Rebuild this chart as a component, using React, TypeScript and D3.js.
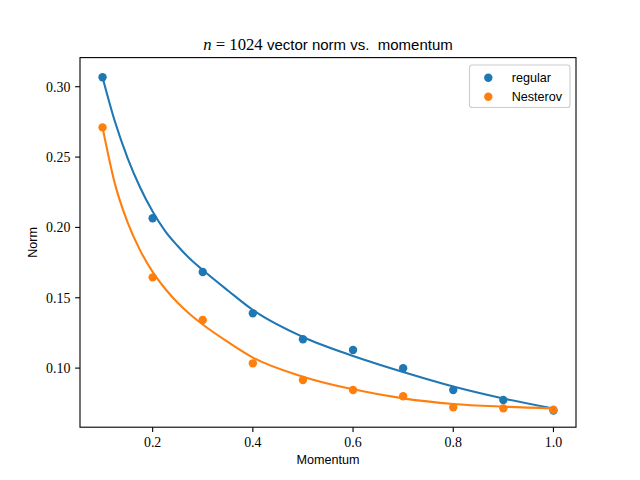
import { useEffect, useRef } from "react";
import * as d3 from "d3";

// measured points
const momentum = [0.1, 0.2, 0.3, 0.4, 0.5, 0.6, 0.7, 0.8, 0.9, 1.0];
const regularNorm = [0.3067, 0.2065, 0.1683, 0.139, 0.1205, 0.1129, 0.0999, 0.0844, 0.0773, 0.0698];
const nesterovNorm = [0.2711, 0.1645, 0.1342, 0.1034, 0.0915, 0.0844, 0.08, 0.0721, 0.0714, 0.0704];

// fitted curves
const fitMomentum = [0.1, 0.125, 0.15, 0.175, 0.2, 0.225, 0.25, 0.275, 0.3, 0.35, 0.4, 0.5, 0.6, 0.7, 0.8, 0.9, 1.0];
const regularFit = [0.3067, 0.2749, 0.2493, 0.2284, 0.2113, 0.1974, 0.1868, 0.1775, 0.1697, 0.1552, 0.1413, 0.1221, 0.1086, 0.0972, 0.0869, 0.0784, 0.0713];
const nesterovFit = [0.2711, 0.2306, 0.2036, 0.1837, 0.1684, 0.1564, 0.1464, 0.1381, 0.131, 0.1186, 0.1075, 0.0939, 0.0849, 0.0785, 0.0745, 0.0726, 0.0714];

const xTicks = [0.2, 0.4, 0.6, 0.8, 1.0];
const yTicks = [0.1, 0.15, 0.2, 0.25, 0.3];

const seriesNames = ["regular", "Nesterov"];
const colors = ["#1f77b4", "#ff7f0e"];

const SERIF = "'Liberation Serif', 'DejaVu Serif', serif";
const SANS = "'Liberation Sans', Arial, sans-serif";

const width = 640;
const height = 480;

export const NormChart = () => {
    const svgRef = useRef<SVGSVGElement | null>(null);

    useEffect(() => {
        const svg = d3.select(svgRef.current);
        svg.selectAll("*").remove();

        const margin = { top: 57.6, right: 64, bottom: 52.8, left: 80 };
        const x0 = margin.left;
        const x1 = width - margin.right;
        const y0 = height - margin.bottom;
        const y1 = margin.top;

        const x = d3.scaleLinear().domain([0.055, 1.045]).range([x0, x1]);
        const y = d3.scaleLinear().domain([0.058, 0.3207]).range([y0, y1]);

        svg.append("rect").attr("width", width).attr("height", height).attr("fill", "white");

        // scatter points (under the lines)
        const pointSets = [regularNorm, nesterovNorm];
        pointSets.forEach((vals, i) => {
            svg.append("g")
                .selectAll("circle")
                .data(momentum)
                .enter()
                .append("circle")
                .attr("cx", d => x(d))
                .attr("cy", (_d, j) => y(vals[j]))
                .attr("r", 4.2)
                .attr("fill", colors[i]);
        });

        const line = d3.line<number>()
            .x(d => x(d))
            .curve(d3.curveMonotoneX);

        [regularFit, nesterovFit].forEach((vals, i) => {
            svg.append("path")
                .attr("d", line.y((_d, j) => y(vals[j]))(fitMomentum))
                .attr("fill", "none")
                .attr("stroke", colors[i])
                .attr("stroke-width", 2.08)
                .attr("stroke-linecap", "square");
        });

        // frame
        svg.append("rect")
            .attr("x", x0).attr("y", y1)
            .attr("width", x1 - x0).attr("height", y0 - y1)
            .attr("fill", "none")
            .attr("stroke", "black")
            .attr("stroke-width", 1.1);

        // x ticks
        const xg = svg.append("g");
        xg.selectAll("line")
            .data(xTicks)
            .enter()
            .append("line")
            .attr("x1", d => x(d)).attr("x2", d => x(d))
            .attr("y1", y0).attr("y2", y0 + 4.9)
            .attr("stroke", "black").attr("stroke-width", 1.1);
        xg.selectAll("text")
            .data(xTicks)
            .enter()
            .append("text")
            .attr("x", d => x(d))
            .attr("y", y0 + 19.5)
            .attr("text-anchor", "middle")
            .attr("font-family", SERIF)
            .attr("font-size", 13.9)
            .text(d => d.toFixed(1));

        // y ticks
        const yg = svg.append("g");
        yg.selectAll("line")
            .data(yTicks)
            .enter()
            .append("line")
            .attr("x1", x0 - 4.9).attr("x2", x0)
            .attr("y1", d => y(d)).attr("y2", d => y(d))
            .attr("stroke", "black").attr("stroke-width", 1.1);
        yg.selectAll("text")
            .data(yTicks)
            .enter()
            .append("text")
            .attr("x", x0 - 9.6)
            .attr("y", d => y(d) + 4.8)
            .attr("text-anchor", "end")
            .attr("font-family", SERIF)
            .attr("font-size", 13.9)
            .text(d => d.toFixed(2));

        // axis labels
        svg.append("text")
            .attr("x", (x0 + x1) / 2)
            .attr("y", 464)
            .attr("text-anchor", "middle")
            .attr("font-family", SANS)
            .attr("font-size", 12.6)
            .text("Momentum");
        svg.append("text")
            .attr("transform", `translate(36.5,${(y0 + y1) / 2}) rotate(-90)`)
            .attr("text-anchor", "middle")
            .attr("font-family", SANS)
            .attr("font-size", 12.6)
            .text("Norm");

        // title
        const title = svg.append("text")
            .attr("x", (x0 + x1) / 2)
            .attr("y", 50)
            .attr("text-anchor", "middle")
            .style("white-space", "pre");
        title.append("tspan").attr("font-family", SERIF).attr("font-style", "italic").attr("font-size", 16.7).text("n");
        title.append("tspan").attr("font-family", SERIF).attr("font-size", 16.7).text(" = 1024 ");
        title.append("tspan").attr("font-family", SANS).attr("font-size", 15).text("vector norm vs.  momentum");

        // legend
        const lg = svg.append("g");
        lg.append("rect")
            .attr("x", 469.5).attr("y", 65)
            .attr("width", 100.5).attr("height", 42.5)
            .attr("rx", 2.8)
            .attr("fill", "white").attr("fill-opacity", 0.8)
            .attr("stroke", "#cccccc").attr("stroke-width", 1.1);
        seriesNames.forEach((name, i) => {
            const cy = 77.7 + i * 19;
            lg.append("circle").attr("cx", 488.3).attr("cy", cy).attr("r", 4.2).attr("fill", colors[i]);
            lg.append("text")
                .attr("x", 511.7)
                .attr("y", cy + 4.5)
                .attr("font-family", SANS)
                .attr("font-size", 12.6)
                .text(name);
        });
    }, []);

    return (
        <svg
            ref={svgRef}
            width={width}
            height={height}
            style={{ position: "absolute", left: 0, top: 0 }}
        ></svg>
    );
};

export default function App() {
    return <NormChart />;
}
